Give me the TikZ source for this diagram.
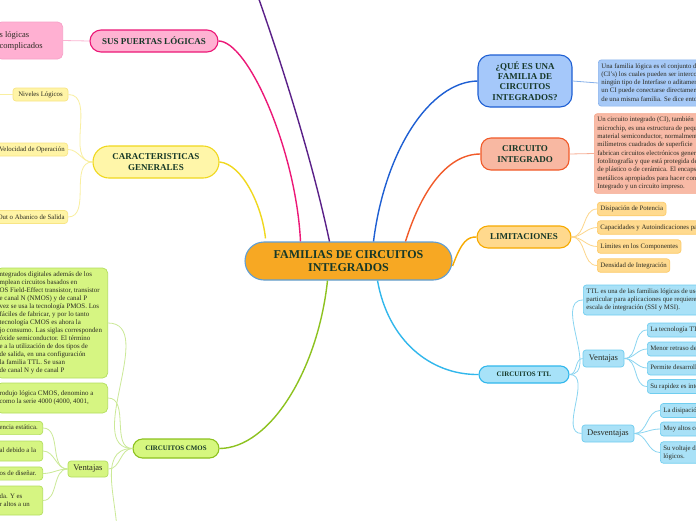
\documentclass[tikz,border=0pt]{standalone}
\usepackage{fontspec}
\setmainfont{Liberation Serif}
\newcommand{\mylines}[2]{\makebox[#1][l]{\begin{tabular}{@{}l@{}}#2\end{tabular}}}
\definecolor{topictxt}{HTML}{163828}
\definecolor{leaftxt}{HTML}{2B2B22}
\definecolor{cfill}{HTML}{F7A823}\definecolor{cborder}{HTML}{5E9ED6}
\definecolor{pkfill}{HTML}{FFB2D2}\definecolor{pkline}{HTML}{EC1877}\definecolor{pkleaf}{HTML}{FFB0D2}\definecolor{pkleafb}{HTML}{F7A0C8}\definecolor{pkconn}{HTML}{FBB4D2}
\definecolor{yfill}{HTML}{FFF6A9}\definecolor{yline}{HTML}{F0D81E}\definecolor{yleaf}{HTML}{FFF4A6}\definecolor{yleafb}{HTML}{F8E585}\definecolor{yconn}{HTML}{F9EFA0}
\definecolor{purp}{HTML}{5A2088}
\definecolor{bfill}{HTML}{A5C8FA}\definecolor{bline}{HTML}{1E5FD3}\definecolor{bleaf}{HTML}{A6C9F7}\definecolor{bleafb}{HTML}{8AB3EC}\definecolor{bconn}{HTML}{86B0EA}
\definecolor{rfill}{HTML}{F8B8A2}\definecolor{rline}{HTML}{F15A29}\definecolor{rleaf}{HTML}{F8BAA6}\definecolor{rleafb}{HTML}{F5A78C}\definecolor{rconn}{HTML}{F7AE95}
\definecolor{ofill}{HTML}{FFD98D}\definecolor{oline}{HTML}{F7AA00}\definecolor{oleaf}{HTML}{FFDA8F}\definecolor{oleafb}{HTML}{FCCB6A}\definecolor{oconn}{HTML}{FDD68A}
\definecolor{gfill}{HTML}{D6F77F}\definecolor{gline}{HTML}{8DC21F}\definecolor{gleaf}{HTML}{D6F582}\definecolor{gleafb}{HTML}{B3DE5E}\definecolor{gconn}{HTML}{CBE997}
\definecolor{tfill}{HTML}{A7E2F8}\definecolor{tline}{HTML}{31B7EC}\definecolor{tleaf}{HTML}{A9E1F7}\definecolor{tleafb}{HTML}{6FCDEF}\definecolor{tconn}{HTML}{8AD5F1}
\begin{document}
\begin{tikzpicture}[x=1pt,y=-1pt,
  topic/.style={draw, line width=1.1pt, inner sep=0pt, align=center, text=topictxt, font=\bfseries\fontsize{9}{11}\selectfont},
  leaf/.style={draw, line width=0.7pt, rounded corners=3pt, inner xsep=3pt, inner ysep=2.5pt, text=leaftxt, font=\fontsize{6.8}{8.2}\selectfont},
  vbox/.style={draw, line width=0.7pt, rounded corners=3pt, inner sep=0pt, text=leaftxt, font=\fontsize{8.6}{10}\selectfont},
  mainconn/.style={line width=1.4pt},
  subconn/.style={line width=0.8pt}
]
\useasboundingbox (0,0) rectangle (696,520);
\fill[white] (0,0) rectangle (696,520);

% central
\node[topic, fill=cfill, draw=cborder, rounded corners=19pt, minimum width=207pt, minimum height=38pt, font=\bfseries\fontsize{12}{13.5}\selectfont] (c) at (348.5,261) {FAMILIAS DE CIRCUITOS\\INTEGRADOS};

% purple off-canvas branch
\coordinate (poff) at (255,-12);
\draw[mainconn, purp] ([xshift=-19pt]c.north) .. controls (310,150) and (277,50) .. (poff);

% pink
\node[topic, fill=pkfill, draw=pkline, rounded corners=11pt, minimum width=128pt, minimum height=22pt] (sp) at (154,41) {SUS PUERTAS LÓGICAS};
\node[leaf, fill=pkleaf, draw=pkleafb, rounded corners=5pt, anchor=east, minimum height=37pt, font=\fontsize{8.5}{11}\selectfont] (spc) at (63,40.5) {\mylines{60pt}{s lógicas\\complicados\\ }};
\draw[mainconn, pkline] (sp.east) .. controls (248,41) and (296,150) .. ([xshift=-48pt]c.north);
\draw[subconn, pkconn] (spc.east) -- (sp.west);

% yellow
\node[topic, fill=yfill, draw=yline, rounded corners=16pt, minimum width=126pt, minimum height=32pt] (cg) at (156,162) {CARACTERISTICAS\\GENERALES};
\node[leaf, fill=yleaf, draw=yleafb, minimum width=55pt, minimum height=13pt] (nl) at (40.5,94.5) {Niveles Lógicos};
\node[leaf, fill=yleaf, draw=yleafb, minimum height=13pt, anchor=east] (vo) at (68,149.5) {Velocidad de Operación};
\node[leaf, fill=yleaf, draw=yleafb, minimum height=13pt, anchor=east] (fo) at (68,217) {Fan-Out o Abanico de Salida};
\coordinate (nloff) at (-10,94.5);
\draw[mainconn, yline] (cg.east) .. controls (242,164) and (262,205) .. ([xshift=-83pt,yshift=3pt]c.north);
\draw[subconn, yconn] (cg.west) to[out=180,in=0] (nl.east);
\draw[subconn, yconn] (cg.west) to[out=180,in=0] (vo.east);
\draw[subconn, yconn] (cg.west) to[out=180,in=0] (fo.east);
\draw[subconn, yconn] (nl.west) -- (nloff);

% blue
\node[topic, fill=bfill, draw=bline, rounded corners=12pt, minimum width=94pt, minimum height=52pt, font=\bfseries\fontsize{9}{10.3}\selectfont] (qf) at (525,81) {¿QUÉ ES UNA\\FAMILIA DE\\CIRCUITOS\\INTEGRADOS?};
\node[leaf, fill=bleaf, draw=bleafb, anchor=west, minimum height=40pt, font=\fontsize{6.8}{8.25}\selectfont] (qfc) at (598,83) {\mylines{160pt}{Una familia lógica es el conjunto de\\(CI's) los cuales pueden ser interconectados\\ningún tipo de Interfase o aditamento\\un CI puede conectarse directamente\\de una misma familia. Se dice entonces}};
\draw[mainconn, bline] ([xshift=25pt]c.north) .. controls (385,150) and (430,82) .. (qf.west);
\draw[subconn, bconn] (qf.east) -- (qfc.west);

% red
\node[topic, fill=rfill, draw=rline, rounded corners=10pt, minimum width=88pt, minimum height=32pt] (ci) at (525,154) {CIRCUITO\\INTEGRADO};
\node[leaf, fill=rleaf, draw=rleafb, anchor=west, minimum height=79pt, font=\fontsize{6.8}{8.3}\selectfont] (cic) at (594,153.5) {\mylines{160pt}{Un circuito integrado (CI), también\\microchip, es una estructura de pequeñas\\material semiconductor, normalmente\\milímetros cuadrados de superficie\\fabrican circuitos electrónicos generalmente\\fotolitografía y que está protegida dentro\\de plástico o de cerámica. El encapsulado\\metálicos apropiados para hacer conexión\\Integrado y un circuito impreso.}};
\draw[mainconn, rline] ([xshift=57pt]c.north) .. controls (420,195) and (445,154) .. (ci.west);
\draw[subconn, rconn] (ci.east) -- (cic.west);

% orange
\node[topic, fill=ofill, draw=oline, rounded corners=11pt, minimum width=94pt, minimum height=22pt] (li) at (524,237) {LIMITACIONES};
\node[leaf, fill=oleaf, draw=oleafb, anchor=west, minimum height=13.5pt] (l1) at (597,209) {Disipación de Potencia};
\node[leaf, fill=oleaf, draw=oleafb, anchor=west, minimum height=13.5pt] (l2) at (597,227.5) {Capacidades y Autoindicaciones parásitas};
\node[leaf, fill=oleaf, draw=oleafb, anchor=west, minimum height=13.5pt] (l3) at (597,246.5) {Límites en los Componentes};
\node[leaf, fill=oleaf, draw=oleafb, anchor=west, minimum height=13.5pt] (l4) at (597,265.5) {Densidad de Integración};
\draw[mainconn, oline] ([yshift=-5pt]c.east) .. controls (462,240) and (468,237) .. (li.west);
\foreach \n in {l1,l2,l3,l4} \draw[subconn, oconn] (li.east) to[out=0,in=180] (\n.west);

% green
\node[topic, fill=gfill, draw=gline, rounded corners=9.5pt, minimum width=86pt, minimum height=19pt, font=\bfseries\fontsize{6.9}{8}\selectfont] (cm) at (176,448.5) {CIRCUITOS CMOS};
\node[leaf, fill=gleaf, draw=gleafb, anchor=east, minimum height=110pt, rounded corners=5pt, font=\fontsize{6.9}{8}\selectfont] (cm1) at (108,323) {\mylines{105pt}{ntegrados digitales además de los\\mplean circuitos basados en\\OS Field-Effect transistor, transistor\\e canal N (NMOS) y de canal P\\vez se usa la tecnología PMOS. Los\\fáciles de fabricar, y por lo tanto\\tecnología CMOS es ahora la\\jo consumo. Las siglas corresponden\\óxide semiconductor. El término\\e a la utilización de dos tipos de\\de salida, en una configuración\\la familia TTL. Se usan\\de canal N y de canal P}};
\node[leaf, fill=gleaf, draw=gleafb, anchor=east, minimum height=30pt, rounded corners=5pt, font=\fontsize{6.9}{8}\selectfont] (cm2) at (108,398) {\mylines{105pt}{rodujo lógica CMOS, denomino a\\como la serie 4000 (4000, 4001,\\ }};
\node[vbox, fill=gleaf, draw=gleafb, minimum width=40pt, minimum height=16pt] (cv) at (88,469) {Ventajas};
\node[leaf, fill=gleaf, draw=gleafb, anchor=east, minimum height=10pt] (cv1) at (43,428) {\mylines{40pt}{encia estática.}};
\node[leaf, fill=gleaf, draw=gleafb, anchor=east, minimum height=20pt] (cv2) at (43,451) {\mylines{40pt}{al debido a la\\ }};
\node[leaf, fill=gleaf, draw=gleafb, anchor=east, minimum height=13pt] (cv3) at (43,473.5) {\mylines{40pt}{os de diseñar.}};
\node[leaf, fill=gleaf, draw=gleafb, anchor=east, minimum height=29pt] (cv4) at (43,500.5) {\mylines{40pt}{da. Y es\\r altos a un\\ }};
\coordinate (cmoff) at (117,545);
\draw[mainconn, gline] ([xshift=-21pt]c.south) .. controls (318,370) and (270,448) .. (cm.east);
\draw[subconn, gconn] (cm.west) to[out=180,in=0] (cm1.east);
\draw[subconn, gconn] (cm.west) to[out=180,in=0] (cm2.east);
\draw[subconn, gconn] (cm.west) to[out=180,in=0] (cv.east);
\draw[subconn, gconn] (cm.west) to[out=180,in=85] (cmoff);
\foreach \n in {cv1,cv2,cv3,cv4} \draw[subconn, gconn] (cv.west) to[out=180,in=0] (\n.east);

% cyan
\node[topic, fill=tfill, draw=tline, rounded corners=8.5pt, minimum width=90pt, minimum height=17pt, font=\bfseries\fontsize{6.9}{8}\selectfont] (tt) at (524,374.5) {CIRCUITOS TTL};
\node[leaf, fill=tleaf, draw=tleafb, anchor=west, minimum height=30pt] (tt1) at (583,300) {\mylines{160pt}{TTL es una de las familias lógicas de uso\\particular para aplicaciones que requieren\\escala de integración (SSI y MSI).}};
\node[vbox, fill=tleaf, draw=tleafb, minimum width=41pt, minimum height=17pt] (tv) at (603.5,358.5) {Ventajas};
\node[vbox, fill=tleaf, draw=tleafb, minimum width=52pt, minimum height=17pt] (td) at (608,433.5) {Desventajas};
\node[leaf, fill=tleaf, draw=tleafb, anchor=west, minimum height=14pt] (tv1) at (647,330) {\mylines{80pt}{La tecnología TTL}};
\node[leaf, fill=tleaf, draw=tleafb, anchor=west, minimum height=14pt] (tv2) at (647,349) {\mylines{80pt}{Menor retraso de propagación}};
\node[leaf, fill=tleaf, draw=tleafb, anchor=west, minimum height=14pt] (tv3) at (647,368) {\mylines{80pt}{Permite desarrollar}};
\node[leaf, fill=tleaf, draw=tleafb, anchor=west, minimum height=14pt] (tv4) at (647,386.5) {\mylines{80pt}{Su rapidez es intermedia}};
\node[leaf, fill=tleaf, draw=tleafb, anchor=west, minimum height=14pt] (td1) at (660,410.5) {\mylines{80pt}{La disipación de potencia}};
\node[leaf, fill=tleaf, draw=tleafb, anchor=west, minimum height=14pt] (td2) at (660,429) {\mylines{80pt}{Muy altos consumos}};
\node[leaf, fill=tleaf, draw=tleafb, anchor=west, minimum height=21pt] (td3) at (660,452.5) {\mylines{80pt}{Su voltaje de\\lógicos.}};
\draw[mainconn, tline] ([xshift=29pt]c.south) .. controls (388,340) and (430,375) .. (tt.west);
\draw[subconn, tconn] (tt.east) to[out=0,in=180] (tt1.west);
\draw[subconn, tconn] (tt.east) to[out=0,in=180] (tv.west);
\draw[subconn, tconn] (tt.east) to[out=0,in=180] (td.west);
\foreach \n in {tv1,tv2,tv3,tv4} \draw[subconn, tconn] (tv.east) to[out=0,in=180] (\n.west);
\foreach \n in {td1,td2,td3} \draw[subconn, tconn] (td.east) to[out=0,in=180] (\n.west);
\end{tikzpicture}
\end{document}
